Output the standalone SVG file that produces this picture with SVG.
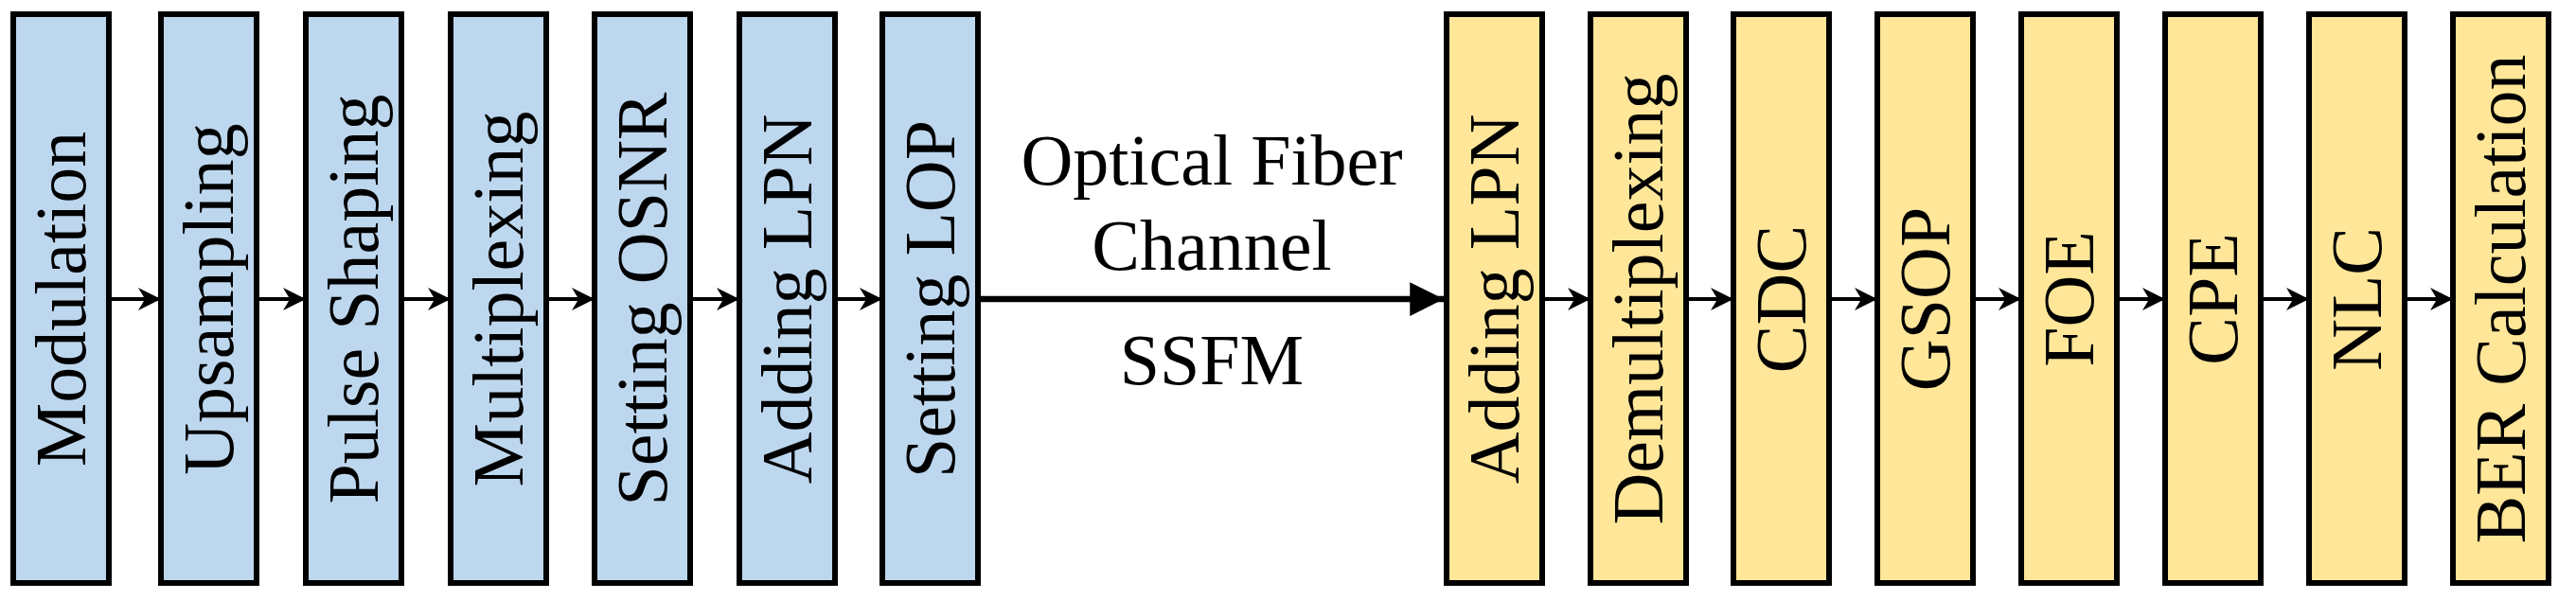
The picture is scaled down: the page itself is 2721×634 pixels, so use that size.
<svg xmlns="http://www.w3.org/2000/svg" width="2721" height="634" viewBox="0 0 2721 634">
<style>
.b{fill:#BDD7EE;stroke:#000;stroke-width:6}
.y{fill:#FFE699;stroke:#000;stroke-width:6}
text{font-family:'Liberation Serif','Times New Roman',Tinos,'DejaVu Serif',serif;font-size:76px;fill:#000}
.l{text-anchor:middle;dominant-baseline:central}
.c{stroke:#000;stroke-width:4;fill:none}
</style>
<defs>
<marker id="a" viewBox="0 0 10 10" refX="10" refY="5" markerWidth="6.5" markerHeight="6" orient="auto" markerUnits="strokeWidth"><path d="M0,0L10,5L0,10L3,5Z" fill="#000"/></marker>
<marker id="A" viewBox="0 0 10 10" refX="10" refY="5" markerWidth="7.5" markerHeight="5.5" orient="auto" markerUnits="strokeWidth"><path d="M0,0L10,5L0,10Z" fill="#000"/></marker>
</defs>
<g id="connectors">
<path class="c" d="M115,316H170" marker-end="url(#a)"/>
<path class="c" d="M271,316H323" marker-end="url(#a)"/>
<path class="c" d="M424,316H476" marker-end="url(#a)"/>
<path class="c" d="M577,316H628" marker-end="url(#a)"/>
<path class="c" d="M729,316H781" marker-end="url(#a)"/>
<path class="c" d="M882,316H932" marker-end="url(#a)"/>
<path d="M1033,316H1525" stroke="#000" stroke-width="6.5" marker-end="url(#A)"/>
<path class="c" d="M1629,316H1680" marker-end="url(#a)"/>
<path class="c" d="M1780,316H1831" marker-end="url(#a)"/>
<path class="c" d="M1932,316H1983" marker-end="url(#a)"/>
<path class="c" d="M2084,316H2135" marker-end="url(#a)"/>
<path class="c" d="M2236,316H2287" marker-end="url(#a)"/>
<path class="c" d="M2388,316H2439" marker-end="url(#a)"/>
<path class="c" d="M2540,316H2591" marker-end="url(#a)"/>
<text x="1280" y="195" text-anchor="middle">Optical Fiber</text>
<text x="1280" y="285" text-anchor="middle">Channel</text>
<text x="1280" y="406" text-anchor="middle">SSFM</text>
</g>
<g id="n1"><rect class="b" x="14" y="15" width="101" height="601"/><text class="l" transform="translate(64,316) rotate(-90)">Modulation</text></g>
<g id="n2"><rect class="b" x="170" y="15" width="101" height="601"/><text class="l" transform="translate(220,316) rotate(-90)">Upsampling</text></g>
<g id="n3"><rect class="b" x="323" y="15" width="101" height="601"/><text class="l" transform="translate(373,316) rotate(-90)">Pulse Shaping</text></g>
<g id="n4"><rect class="b" x="476" y="15" width="101" height="601"/><text class="l" transform="translate(526,316) rotate(-90)">Multiplexing</text></g>
<g id="n5"><rect class="b" x="628" y="15" width="101" height="601"/><text class="l" transform="translate(678,316) rotate(-90)">Setting OSNR</text></g>
<g id="n6"><rect class="b" x="781" y="15" width="101" height="601"/><text class="l" transform="translate(831,316) rotate(-90)">Adding LPN</text></g>
<g id="n7"><rect class="b" x="932" y="15" width="101" height="601"/><text class="l" transform="translate(982,316) rotate(-90)">Setting LOP</text></g>
<g id="n8"><rect class="y" x="1528" y="15" width="101" height="601"/><text class="l" transform="translate(1578,316) rotate(-90)">Adding LPN</text></g>
<g id="n9"><rect class="y" x="1680" y="15" width="101" height="601"/><text class="l" transform="translate(1730,316) rotate(-90)">Demultiplexing</text></g>
<g id="n10"><rect class="y" x="1831" y="15" width="101" height="601"/><text class="l" transform="translate(1881,316) rotate(-90)">CDC</text></g>
<g id="n11"><rect class="y" x="1983" y="15" width="101" height="601"/><text class="l" transform="translate(2033,316) rotate(-90)">GSOP</text></g>
<g id="n12"><rect class="y" x="2135" y="15" width="101" height="601"/><text class="l" transform="translate(2185,316) rotate(-90)">FOE</text></g>
<g id="n13"><rect class="y" x="2287" y="15" width="101" height="601"/><text class="l" transform="translate(2337,316) rotate(-90)">CPE</text></g>
<g id="n14"><rect class="y" x="2439" y="15" width="101" height="601"/><text class="l" transform="translate(2489,316) rotate(-90)">NLC</text></g>
<g id="n15"><rect class="y" x="2591" y="15" width="101" height="601"/><text class="l" transform="translate(2641,316) rotate(-90)">BER Calculation</text></g>
</svg>
